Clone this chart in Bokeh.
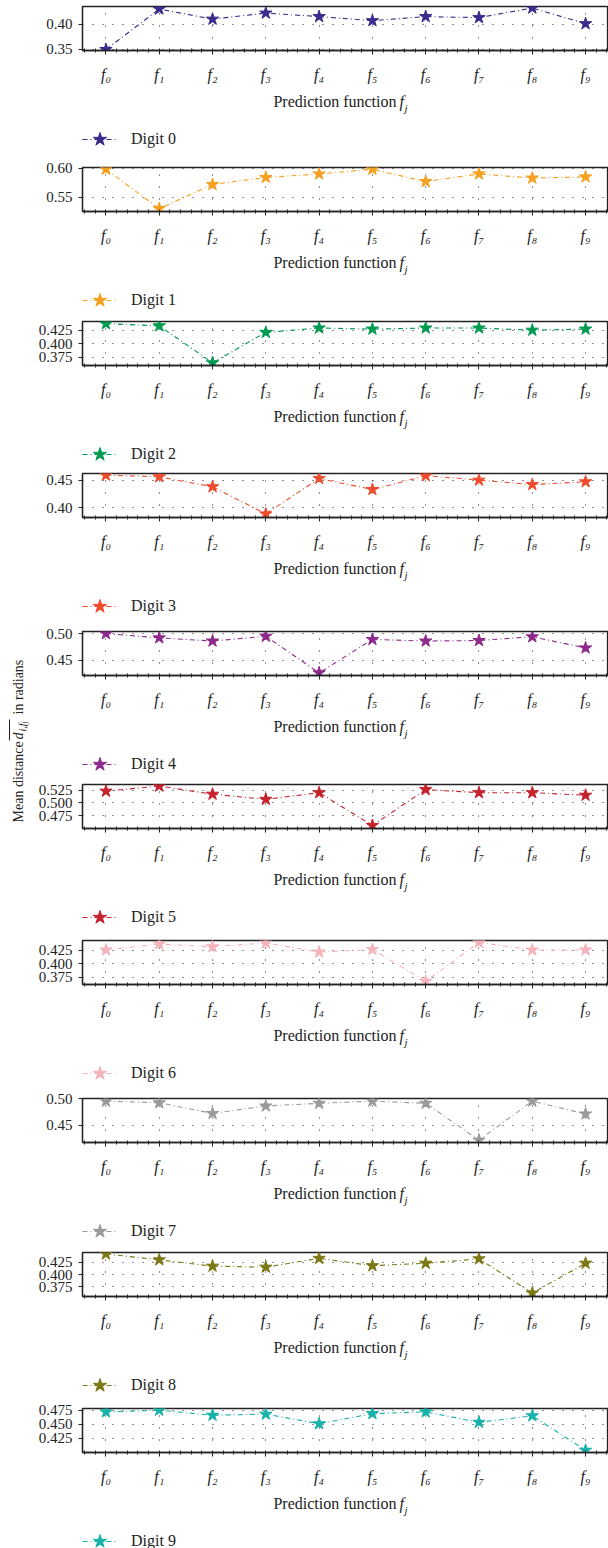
import math
import numpy as np
from bokeh.plotting import figure
from bokeh.layouts import column, row
from bokeh.models import (Range1d, FixedTicker, Label, Legend, LegendItem,
                          PrintfTickFormatter)
from bokeh.embed import file_html
from bokeh.resources import INLINE

# ---------------- data ----------------
func_index = list(range(10))
func_labels = ["f\u2080", "f\u2081", "f\u2082", "f\u2083", "f\u2084",
               "f\u2085", "f\u2086", "f\u2087", "f\u2088", "f\u2089"]
digit_names = ["Digit 0", "Digit 1", "Digit 2", "Digit 3", "Digit 4",
               "Digit 5", "Digit 6", "Digit 7", "Digit 8", "Digit 9"]

digit_0 = [0.350, 0.430, 0.410, 0.422, 0.415, 0.407, 0.415, 0.413, 0.432, 0.401]
digit_1 = [0.598, 0.531, 0.572, 0.584, 0.590, 0.598, 0.577, 0.590, 0.583, 0.585]
digit_2 = [0.437, 0.433, 0.365, 0.421, 0.429, 0.427, 0.429, 0.429, 0.425, 0.427]
digit_3 = [0.459, 0.456, 0.438, 0.389, 0.453, 0.433, 0.458, 0.450, 0.442, 0.447]
digit_4 = [0.500, 0.492, 0.486, 0.495, 0.426, 0.489, 0.486, 0.487, 0.494, 0.473]
digit_5 = [0.523, 0.533, 0.517, 0.507, 0.520, 0.456, 0.526, 0.520, 0.520, 0.515]
digit_6 = [0.426, 0.437, 0.432, 0.439, 0.422, 0.427, 0.368, 0.440, 0.426, 0.426]
digit_7 = [0.495, 0.492, 0.472, 0.486, 0.491, 0.495, 0.491, 0.422, 0.495, 0.471]
digit_8 = [0.442, 0.430, 0.417, 0.415, 0.433, 0.418, 0.423, 0.432, 0.362, 0.423]
digit_9 = [0.472, 0.475, 0.466, 0.468, 0.451, 0.469, 0.472, 0.4535, 0.465, 0.404]
series = [digit_0, digit_1, digit_2, digit_3, digit_4,
          digit_5, digit_6, digit_7, digit_8, digit_9]

y_limits = [(0.348, 0.435), (0.526, 0.601), (0.360, 0.441), (0.3825, 0.462),
            (0.421, 0.504), (0.450, 0.536), (0.362, 0.4435), (0.4175, 0.500),
            (0.355, 0.445), (0.400, 0.478)]
y_ticks = [[0.35, 0.40], [0.55, 0.60], [0.375, 0.400, 0.425], [0.40, 0.45],
           [0.45, 0.50], [0.475, 0.500, 0.525], [0.375, 0.400, 0.425],
           [0.45, 0.50], [0.375, 0.400, 0.425], [0.425, 0.450, 0.475]]
y_formats = ["%.2f", "%.2f", "%.3f", "%.2f", "%.2f", "%.3f", "%.3f", "%.2f",
             "%.3f", "%.3f"]

colors = ["#392c8d", "#f5a01e", "#009a50", "#ef4b2d", "#8d2a8c",
          "#c6222e", "#f5b4bc", "#9a9a9a", "#7b7815", "#17b2aa"]

x_axis_title = "Prediction function"
y_axis_title = "Mean distance"

# ---------------- layout ----------------
FONT = "Liberation Serif"
INK = "#222222"
TOTAL_H = 1548
LEFT_W = 30
PANEL_W = 608 - LEFT_W
FRAME_L = 52
box_tops = [6, 167, 321, 473, 631, 784, 940, 1098, 1252, 1408]
TOP_B = 6
BOX_H = 44
AX_B = 40
PLOT_H = TOP_B + BOX_H + AX_B
starts = [t - TOP_B for t in box_tops]
heights = [starts[i + 1] - starts[i] for i in range(9)] + [TOTAL_H - starts[-1]]
DASH = "5 3 1 3"


def blank_figure(w, h, left_border=0):
    f = figure(width=w, height=h, output_backend="svg", toolbar_location=None,
               x_range=Range1d(left_border, w), y_range=Range1d(0, h),
               x_axis_location=None, y_axis_location=None,
               min_border=0, min_border_left=left_border, min_border_right=0,
               min_border_top=0, min_border_bottom=0)
    f.grid.visible = False
    f.outline_line_color = None
    f.background_fill_color = "white"
    f.border_fill_color = "white"
    return f


blocks = []
for i in range(10):
    H = heights[i]
    p = figure(width=PANEL_W, height=PLOT_H, output_backend="svg",
               toolbar_location=None,
               x_range=Range1d(-0.44, 9.43),
               y_range=Range1d(*y_limits[i]),
               min_border_left=FRAME_L, min_border_right=0,
               min_border_top=TOP_B, min_border_bottom=AX_B)
    p.background_fill_color = "white"
    p.border_fill_color = "white"
    p.outline_line_color = INK
    p.outline_line_width = 1.3

    p.xgrid.grid_line_color = INK
    p.xgrid.grid_line_dash = "1 11"
    p.ygrid.grid_line_color = INK
    p.ygrid.grid_line_dash = "1 9"

    xa = p.xaxis[0]
    xa.ticker = FixedTicker(ticks=func_index,
                            minor_ticks=[round(v, 2) for v in np.arange(-0.4, 9.45, 0.2)])
    xa.major_label_overrides = {k: func_labels[k] for k in func_index}
    xa.major_label_text_font = FONT
    xa.major_label_text_font_style = "italic"
    xa.major_label_text_font_size = "16px"
    xa.major_label_text_color = INK
    xa.major_label_standoff = 11
    xa.major_tick_out = 4
    xa.major_tick_in = 0
    xa.minor_tick_out = 2
    xa.minor_tick_in = 2
    xa.axis_line_color = INK
    xa.axis_line_width = 1.6
    xa.major_tick_line_color = INK
    xa.minor_tick_line_color = INK

    ya = p.yaxis[0]
    ya.ticker = FixedTicker(ticks=y_ticks[i])
    ya.formatter = PrintfTickFormatter(format=y_formats[i])
    ya.major_label_text_font = FONT
    ya.major_label_text_font_size = "15px"
    ya.major_label_text_color = INK
    ya.major_label_standoff = 6
    ya.major_tick_out = 4
    ya.major_tick_in = 0
    ya.minor_tick_line_color = None
    ya.axis_line_color = INK
    ya.axis_line_width = 1.3
    ya.major_tick_line_color = INK

    p.line(func_index, series[i], line_color=colors[i], line_width=1.1,
           line_dash=DASH)
    p.scatter(func_index, series[i], marker="star", size=13,
              fill_color=colors[i], line_color=colors[i])

    # text block under the plot: axis title + legend (x in panel pixels)
    th = H - PLOT_H
    t = blank_figure(PANEL_W, th, FRAME_L)
    ty = th - (51 - AX_B)
    t.add_layout(Label(x=366, y=ty, text=x_axis_title, text_align="right",
                       text_baseline="middle", text_font=FONT,
                       text_font_size="16px", text_color=INK))
    t.add_layout(Label(x=369, y=ty, text="f", text_align="left",
                       text_baseline="middle", text_font=FONT,
                       text_font_style="italic", text_font_size="16px",
                       text_color=INK))
    t.add_layout(Label(x=374, y=ty - 6, text="j", text_align="left",
                       text_baseline="middle", text_font=FONT,
                       text_font_style="italic", text_font_size="11px",
                       text_color=INK))
    # legend entries reference hidden copies of the series (legend only)
    lr = t.line(func_index, series[i], line_color=colors[i], line_width=1.1,
                line_dash=DASH, visible=False)
    sr = t.scatter(func_index, series[i], marker="star",
                   fill_color=colors[i], line_color=colors[i], visible=False)
    GH = 38
    leg = Legend(items=[LegendItem(label=digit_names[i], renderers=[lr, sr])],
                 location=(0, th - (89 - AX_B) - GH / 2),
                 glyph_width=35, glyph_height=GH, label_standoff=14,
                 padding=0, margin=0, spacing=0,
                 label_text_font=FONT, label_text_font_size="16px",
                 label_text_color=INK, label_height=GH,
                 border_line_alpha=0, background_fill_alpha=0)
    t.add_layout(leg, "center")
    blocks.append(column(p, t, spacing=0))

# left figure with the shared y title
left = blank_figure(LEFT_W, TOTAL_H)
base_y = TOTAL_H - 822
left.add_layout(Label(x=18, y=base_y, text=y_axis_title, angle=math.pi / 2,
                      text_align="left", text_baseline="middle",
                      text_font=FONT, text_font_size="14px", text_color=INK))
left.add_layout(Label(x=18, y=base_y + 83, text="d", angle=math.pi / 2,
                      text_align="left", text_baseline="middle",
                      text_font=FONT, text_font_style="italic",
                      text_font_size="14px", text_color=INK))
left.add_layout(Label(x=22, y=base_y + 91, text="i,f", angle=math.pi / 2,
                      text_align="left", text_baseline="middle",
                      text_font=FONT, text_font_style="italic",
                      text_font_size="10px", text_color=INK))
left.add_layout(Label(x=24, y=base_y + 99, text="j", angle=math.pi / 2,
                      text_align="left", text_baseline="middle",
                      text_font=FONT, text_font_style="italic",
                      text_font_size="8px", text_color=INK))
left.segment(x0=[9], y0=[base_y + 82], x1=[9], y1=[base_y + 103],
             line_color=INK, line_width=1)
left.add_layout(Label(x=18, y=base_y + 108, text="in radians",
                      angle=math.pi / 2, text_align="left",
                      text_baseline="middle", text_font=FONT,
                      text_font_size="14px", text_color=INK))

layout = row(left, column(*blocks, spacing=0), spacing=0)
open("out.html", "w").write(file_html(layout, INLINE))
